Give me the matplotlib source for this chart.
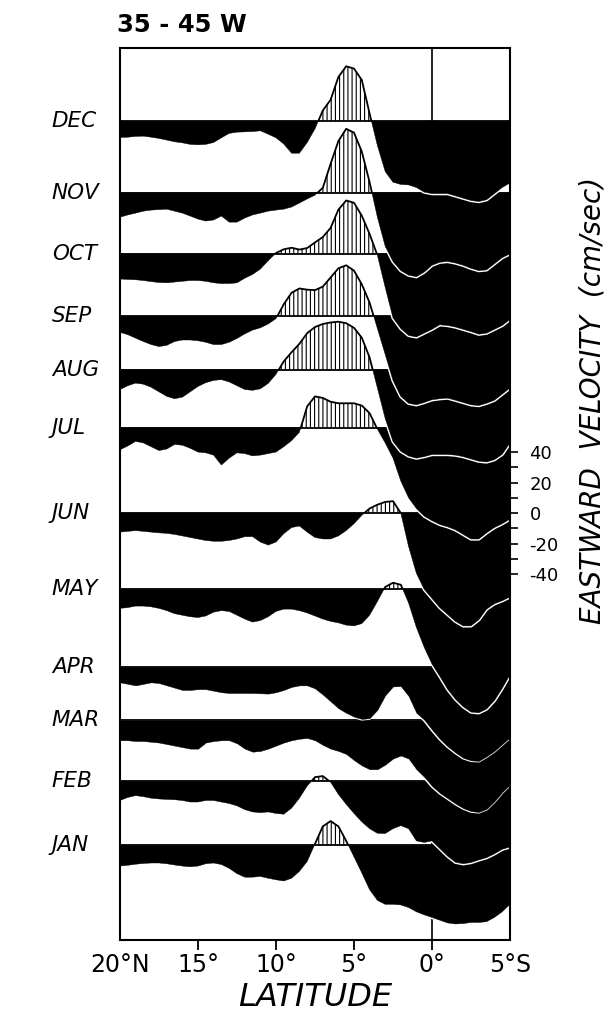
import numpy as np
import matplotlib.pyplot as plt
import matplotlib.transforms as mtransforms
from matplotlib.patches import Rectangle

plt.rcParams['font.family'] = ['DejaVu Sans']
plt.rcParams['hatch.linewidth'] = 0.8

# latitude grid, 20N -> 5S (south negative)
lat = np.arange(20, -5.25, -0.5)

months = ['JAN', 'FEB', 'MAR', 'APR', 'MAY', 'JUN',
          'JUL', 'AUG', 'SEP', 'OCT', 'NOV', 'DEC']
# baseline of each month profile, in cm/sec above the bottom of the frame
offsets = [62, 104, 144, 179, 230, 280, 336, 374, 409, 450, 490, 537]
scale_ref = 280  # the velocity scale is drawn on the JUN baseline

# eastward velocity (cm/sec), every 0.5 deg from 20N to 5S
jan = [-13.5, -13, -12.3, -11.8, -11.5, -11.5, -12, -12.8, -13.5, -14, -13.5,
       -12, -11.5, -12.5, -15, -18.5, -20.8, -20.8, -20.3, -21.5, -22.5, -23.3,
       -21.5, -17, -10.5, 1, 12.5, 16, 12.5, 3, -7.5, -18, -29, -36, -38.6,
       -38.6, -39, -40.7, -43.5, -45.5, -47.2, -49, -50.8, -51.5, -51.2, -50.5,
       -50.5, -50, -47.2, -43.5, -38.6]
feb = [-12.5, -10.5, -9.3, -10, -11, -11.5, -11.8, -12, -12.5, -13.5, -13.5,
       -12.5, -12.5, -13.5, -14.5, -16, -18.5, -20, -20.5, -20, -21, -21.5,
       -17.5, -11, -3, 2.8, 3.5, -0.5, -8.5, -15, -21, -26.5, -31, -34, -34.2,
       -31, -29, -31, -39, -40, -39, -44, -49, -53, -54, -53.2, -51.5, -50,
       -47.5, -44.5, -43]
mar = [-13, -13, -13.5, -13.5, -14, -14.5, -15.5, -16.5, -17.5, -18.5, -18.5,
       -14.5, -13.5, -13, -13, -15, -18.5, -20.5, -20, -18.5, -16.5, -14.5,
       -13, -12, -11.5, -13, -16, -18.5, -20, -22, -26, -29.5, -32, -32, -29,
       -25, -23, -25, -32, -37, -43, -47.5, -51, -54.5, -57.5, -59.5, -60, -58,
       -53, -47, -42]
apr = [-10, -11, -12, -11, -10, -10.5, -12, -13.5, -15, -15, -14.5, -14.5,
       -15.5, -16.5, -17, -17, -17, -17, -17.2, -17.4, -16.5, -15, -13, -12,
       -12, -14, -18, -22.5, -27, -30, -32.5, -34, -33.5, -28, -18.5, -12.7,
       -12.5, -19, -30, -34.5, -41, -47, -52, -56, -59.5, -61.2, -61.5, -58.5,
       -55, -50.5, -46]
may = [-12.5, -12, -11, -11, -11.5, -12.5, -14, -16, -17, -18, -18.5, -17.5,
       -15, -14, -14.5, -17, -19.5, -21.5, -20.5, -18, -14.5, -13, -13, -14,
       -15.5, -17.5, -19.5, -21, -22, -23.5, -24, -22.5, -17, -8, 1.5, 4.3, 3,
       -9, -25, -38, -49, -57, -65.5, -72, -77, -80.5, -81, -78.5, -73, -65,
       -56]
jun = [-12.5, -12, -11.5, -12, -12.5, -13, -13.3, -14, -15, -16, -17, -18,
       -18.5, -18.5, -18, -17, -15.5, -15.5, -19, -21, -19, -13.5, -9.5, -8.5,
       -12.5, -16, -17, -17, -15, -11.5, -7, -1.5, 3, 5.5, 7.3, 7.8, 0, -22,
       -39.5, -50, -56, -62, -66.5, -71, -74, -74, -70, -63, -59.5, -57.5, -55]
jul = [-14.5, -12, -9, -10, -12.5, -15, -14, -11, -11.5, -13.5, -16, -16.5,
       -18, -24.5, -20, -16.5, -17, -18.5, -18, -17, -16, -12.5, -8.5, -3, 14,
       20.5, 19.5, 17, 16, 16, 16, 14.5, 9.5, -1, -10, -20, -35, -46, -53, -58,
       -61, -63.5, -65, -67, -70, -73, -73, -69, -65.5, -63, -60]
aug = [-13, -10.5, -8.8, -9.5, -11.5, -14.5, -17.5, -19, -18, -14.5, -11,
       -8.5, -7, -6.5, -8, -10.5, -13, -13.5, -12.5, -9, -3, 5.5, 11.5, 17, 24,
       28, 30, 31, 31.5, 30.5, 27.5, 21, 8, -12, -32, -47, -53.5, -56.6, -58,
       -57, -55.6, -55.6, -55.6, -56, -57, -58.5, -60, -60.5, -59, -55.5, -48]
sep = [-10.5, -12, -14.3, -16.5, -18.5, -19.8, -19, -16.5, -15.5, -15.5, -16,
       -17, -18.5, -18.5, -17, -14.5, -11.5, -9, -7.5, -5, -1.5, 8, 15.5, 18.3,
       17.5, 17.2, 19.5, 25.5, 31.5, 33.5, 30, 21, 9, -8, -25, -42, -52.5, -57,
       -58, -56.5, -54.7, -54, -53.6, -55, -56.5, -58, -58.5, -57, -55, -51,
       -47]
oct_ = [-16.5, -16.8, -17, -17.5, -18.2, -18.8, -19, -18.5, -18, -17.5, -17.5,
        -18, -19, -19.5, -19.5, -19, -16, -13.5, -10, -4.5, 0.5, 3, 4, 2.8,
        3.8, 7.5, 11, 17, 29, 35, 33.5, 25, 13, -1, -22, -42, -49, -53.5,
        -54.5, -52, -49.5, -46.5, -47, -48, -49.5, -51, -52.7, -52, -49.5, -47,
        -43]
nov = [-16, -14.5, -13.3, -12, -11.3, -11, -10.7, -12, -13.3, -15.2, -17.2,
       -18.5, -17.8, -15.2, -19.2, -19.2, -16.5, -14.5, -13.3, -12, -11.3,
       -10.7, -9.3, -6.7, -4, -1.5, 3.3, 19, 34, 42, 39.5, 27, 7, -16, -35,
       -45, -51, -54, -55, -52, -47.5, -45.5, -45, -46, -47.5, -49.5, -51,
       -50.5, -46.5, -42.5, -40]
dec = [-10.7, -10.5, -10, -9.8, -10.5, -11.3, -12.4, -13.5, -14.2, -15.2,
       -15.5, -15.2, -14, -10.9, -8, -7.2, -7, -6.8, -6.3, -8.5, -10.9, -15,
       -21, -21, -14, -5, 7, 14, 29, 36, 34.5, 27, 5, -16, -33, -40, -41.5,
       -41.8, -43.5, -46.5, -47.5, -47.5, -47.5, -49, -50.5, -52, -52.7, -51.5,
       -47.5, -43.5, -40.5]
profiles = [jan, feb, mar, apr, may, jun, jul, aug, sep, oct_, nov, dec]

xticks = [20, 15, 10, 5, 0, -5]
xticklabels = ['20°N', '15°', '10°', '5°', '0°', '5°S']

fig = plt.figure(figsize=(6.14, 10.14), dpi=100)
ax = fig.add_axes([120 / 614, 74 / 1014, 390 / 614, 892 / 1014])
ax.set_xlim(20, -5)
ax.set_ylim(0, 585)

ax.axvline(0, color='black', lw=1.2, zorder=1)

# draw from the bottom month upward so each upper profile lies on top;
# the white line sits under the month's own black, so only its outer
# half shows where it crosses the black of the months below
for i, (off, vals) in enumerate(zip(offsets, profiles)):
    v = np.array(vals)
    y = off + v
    z = 10 + 5 * i
    ax.fill_between(lat, off, y, where=v > 0, interpolate=True,
                    facecolor='white', edgecolor='black', hatch='||||',
                    linewidth=0, zorder=z)
    low, = ax.plot(lat, y, color='white', lw=2.4, zorder=z + 1,
                   solid_capstyle='butt')
    low.set_clip_path(Rectangle((-5, -50), 25, off + 50, transform=ax.transData))
    ax.fill_between(lat, off, y, where=v < 0, interpolate=True,
                    facecolor='black', edgecolor='black', linewidth=0.3,
                    zorder=z + 2)
    ax.axhline(off, color='black', lw=1.3, zorder=z + 3)
    top, = ax.plot(lat, y, color='black', lw=1.3, zorder=z + 3)
    top.set_clip_path(Rectangle((-5, off), 25, 700, transform=ax.transData))

for s in ax.spines.values():
    s.set_linewidth(1.5)
    s.set_zorder(100)

ax.set_yticks([])
ax.set_xticks(xticks)
ax.set_xticklabels(xticklabels)
ax.tick_params(axis='x', direction='out', length=7, width=1.3,
               labelsize=17, pad=2)
ticks = ax.xaxis.get_major_ticks()
ticks[0].tick1line.set_visible(False)
ticks[-1].tick1line.set_visible(False)

# month names on the left, one per baseline
trans = mtransforms.blended_transform_factory(ax.transAxes, ax.transData)
for name, off in zip(months, offsets):
    ax.text(-0.175, off, name, transform=trans, ha='left', va='center',
            fontsize=15.5, style='italic')

# velocity scale on the right
sec = ax.secondary_yaxis('right', functions=(lambda y: y - scale_ref,
                                             lambda u: u + scale_ref))
sec.set_yticks([-40, -20, 0, 20, 40])
sec.set_yticklabels(['-40', '-20', '0', '20', '40'])
sec.set_yticks([-30, -10, 10, 30], minor=True)
sec.tick_params(which='both', direction='out', length=6, width=1.2,
                labelsize=13, pad=8)
for s in sec.spines.values():
    s.set_visible(False)

fig.text(117 / 614, 1 - 25 / 1014, '35 - 45 W', fontsize=17.5,
         fontweight='bold', ha='left', va='center')
fig.text(315 / 614, 1 - 997 / 1014, 'LATITUDE', fontsize=23,
         style='italic', ha='center', va='center')
fig.text(592 / 614, 1 - 400 / 1014, 'EASTWARD  VELOCITY  (cm/sec)',
         rotation=90, fontsize=20, style='italic', ha='center', va='center')

fig.savefig('out.png', dpi=100)
